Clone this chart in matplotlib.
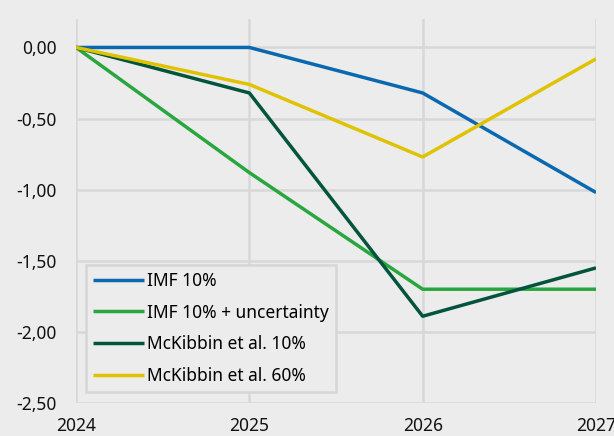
import matplotlib
matplotlib.use("Agg")
import matplotlib.pyplot as plt

years = [2024, 2025, 2026, 2027]
imf_10 = [0.0, 0.0, -0.32, -1.02]
imf_10_unc = [0.0, -0.88, -1.70, -1.70]
mck_10 = [0.0, -0.32, -1.89, -1.55]
mck_60 = [0.0, -0.26, -0.77, -0.08]
labels = ["IMF 10%", "IMF 10% + uncertainty", "McKibbin et al. 10%", "McKibbin et al. 60%"]
colors = ["#0a68b0", "#2aa63f", "#03543c", "#dfc300"]
yticks = [0.0, -0.5, -1.0, -1.5, -2.0, -2.5]

plt.rcParams['font.family'] = ['Noto Sans', 'DejaVu Sans']
bg = "#ececec"
fig = plt.figure(figsize=(6.14, 4.36), dpi=100, facecolor=bg)
ax = fig.add_axes([0.1238, 0.0757, 0.8469, 0.8807], facecolor=bg)

for vals, lab, c in zip([imf_10, imf_10_unc, mck_10, mck_60], labels, colors):
    ax.plot(years, vals, color=c, lw=2.5, label=lab, solid_capstyle='butt')

ax.set_xlim(2024, 2027)
ax.set_ylim(-2.5, 0.2)
ax.set_xticks(years)
ax.set_xticklabels([str(y) for y in years])
ax.set_yticks(yticks)
ax.set_yticklabels([f"{v:.2f}".replace(".", ",") for v in yticks])
ax.grid(True, color="#d8d8d8", lw=1.8)
ax.set_axisbelow(True)
for s in ax.spines.values():
    s.set_visible(False)
ax.tick_params(length=0, labelsize=12.5, colors="#111111")
ax.tick_params(axis='y', pad=14)
ax.tick_params(axis='x', pad=10)

leg = ax.legend(loc='lower left', bbox_to_anchor=(0.02, 0.028), fontsize=12.5,
                handlelength=2.9, handletextpad=0.2, labelspacing=0.8,
                frameon=True, fancybox=False, borderpad=0.4, borderaxespad=0.0)
leg.get_frame().set_facecolor(bg)
leg.get_frame().set_edgecolor("#d6d6d6")
leg.get_frame().set_linewidth(1.8)
leg.get_frame().set_alpha(1)

fig.savefig("out.png", dpi=100, facecolor=bg)
